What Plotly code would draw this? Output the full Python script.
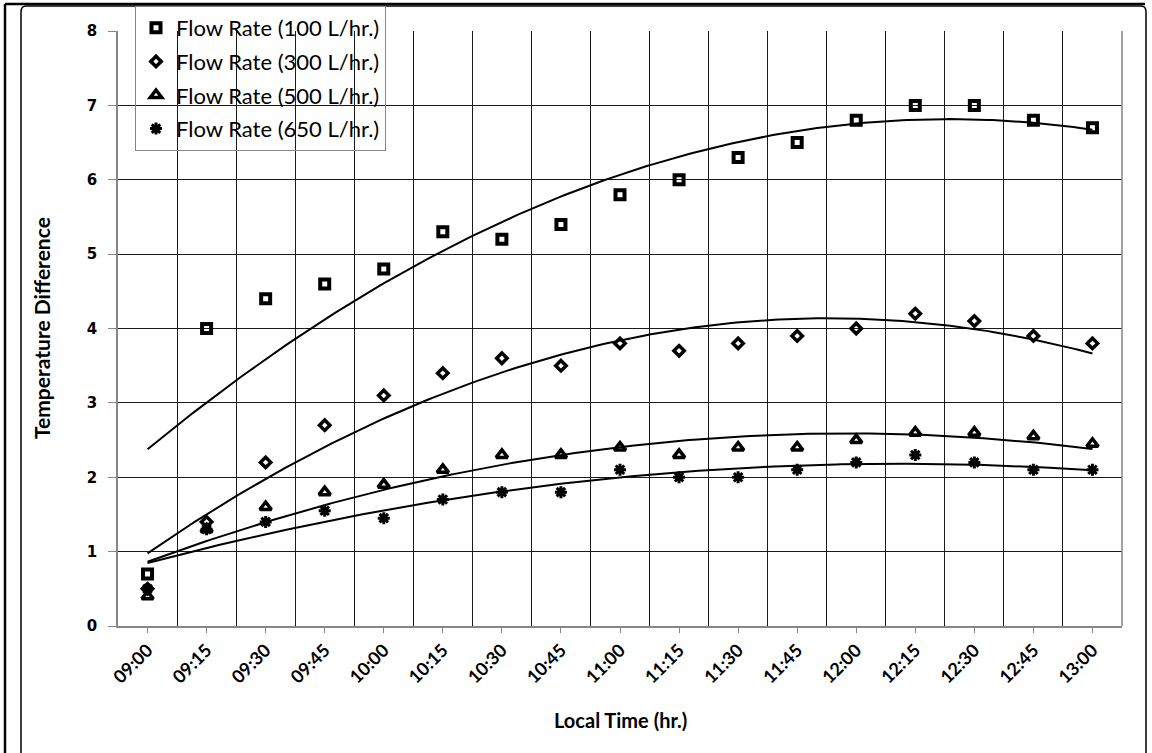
import numpy as np
import plotly.graph_objects as go

# ---------------- data ----------------
times = ["09:00", "09:15", "09:30", "09:45", "10:00", "10:15", "10:30", "10:45",
         "11:00", "11:15", "11:30", "11:45", "12:00", "12:15", "12:30", "12:45", "13:00"]
flow_100 = [0.7, 4.0, 4.4, 4.6, 4.8, 5.3, 5.2, 5.4, 5.8, 6.0, 6.3, 6.5, 6.8, 7.0, 7.0, 6.8, 6.7]
flow_300 = [0.5, 1.4, 2.2, 2.7, 3.1, 3.4, 3.6, 3.5, 3.8, 3.7, 3.8, 3.9, 4.0, 4.2, 4.1, 3.9, 3.8]
flow_500 = [0.4, 1.3, 1.6, 1.8, 1.9, 2.1, 2.3, 2.3, 2.4, 2.3, 2.4, 2.4, 2.5, 2.6, 2.6, 2.55, 2.45]
flow_650 = [0.5, 1.3, 1.4, 1.55, 1.45, 1.7, 1.8, 1.8, 2.1, 2.0, 2.0, 2.1, 2.2, 2.3, 2.2, 2.1, 2.1]
series_names = ["Flow Rate (100 L/hr.)", "Flow Rate (300 L/hr.)",
                "Flow Rate (500 L/hr.)", "Flow Rate (650 L/hr.)"]
y_ticks = [0, 1, 2, 3, 4, 5, 6, 7, 8]

series = [flow_100, flow_300, flow_500, flow_650]
symbols = ["square-open", "diamond-open", "triangle-up-open", "asterisk-open"]
sizes = [9, 8, 10, 10]
widths = [4, 3.5, 3.5, 3]

# plot area geometry (pixels) for paper conversions
W, H = 1152, 753
L, R, T, B = 118, 1122, 31, 626
def px(x):
    return (x - L) / (R - L)
def py(y):
    return (B - y) / (B - T)

x_idx = np.arange(len(times))
fig = go.Figure()

# polynomial (order 2) trendlines fitted to each series
x_dense = np.linspace(0, len(times) - 1, 200)
for vals in series:
    coef = np.polyfit(x_idx, vals, 2)
    fig.add_trace(go.Scatter(x=x_dense, y=np.polyval(coef, x_dense), mode="lines",
                             line=dict(color="black", width=2), showlegend=False,
                             hoverinfo="skip"))

for i, (vals, name) in enumerate(zip(series, series_names)):
    fig.add_trace(go.Scatter(
        x=x_idx, y=vals, mode="markers", name=name, legendgroup=f"g{i}",
        marker=dict(symbol=symbols[i], size=sizes[i], color="black",
                    line=dict(color="black", width=widths[i]))))

grid_col = "#1a1a1a"
axis_col = "#868686"

fig.update_xaxes(
    range=[-0.5, len(times) - 0.5], tickmode="array", tickvals=list(x_idx), ticktext=times,
    tickangle=-45, showgrid=False, showline=True, linecolor=axis_col, linewidth=1.5,
    ticks="outside", ticklen=5, tickcolor=axis_col, zeroline=False,
    tickfont=dict(family="Lato", size=18, color="black", weight="bold"),
    minor=dict(tickmode="array", tickvals=[v - 0.5 for v in range(1, len(times) + 1)],
               showgrid=True, gridcolor=grid_col, gridwidth=1, ticks=""),
)
fig.update_yaxes(
    range=[0, 8], tickmode="array", tickvals=y_ticks, showgrid=True, gridcolor=grid_col,
    gridwidth=1, showline=True, linecolor=axis_col, linewidth=1.5, ticks="outside",
    ticklen=8, tickcolor=axis_col, zeroline=False, ticklabelstandoff=8,
    tickfont=dict(family="DejaVu Sans", size=15, color="black", weight="bold"),
)

shapes = [
    # outer frame (left and top)
    dict(type="line", xref="paper", yref="paper", x0=px(5), x1=px(5), y0=py(4), y1=py(760),
         line=dict(color="black", width=2.5)),
    dict(type="line", xref="paper", yref="paper", x0=px(5), x1=px(1145), y0=py(4), y1=py(4),
         line=dict(color="black", width=2.5)),
    # inner rounded frame
    dict(type="path", xref="paper", yref="paper",
         path=(f"M {px(21)} {py(760)} L {px(21)} {py(12)} Q {px(21)} {py(6)} {px(26)} {py(6)} "
               f"L {px(1141)} {py(6)} Q {px(1146)} {py(6)} {px(1146)} {py(12)} L {px(1146)} {py(760)}"),
         line=dict(color="black", width=1.5)),
    # right edge of the plot area
    dict(type="line", xref="paper", yref="paper", x0=1, x1=1, y0=0, y1=1,
         line=dict(color=axis_col, width=1.5)),
]

annotations = [
    dict(text="Local Time (hr.)", xref="paper", yref="paper", x=0.5, y=py(720),
         showarrow=False, font=dict(family="Lato", size=20, color="black", weight="bold"),
         xanchor="center", yanchor="middle"),
    dict(text="Temperature Difference", xref="paper", yref="paper", x=px(41), y=py(328),
         showarrow=False, textangle=-90,
         font=dict(family="Lato", size=21, color="black", weight="bold"),
         xanchor="center", yanchor="middle"),
]

fig.update_layout(
    width=W, height=H, autosize=False,
    margin=dict(l=L, r=W - R, t=T, b=H - B, pad=0, autoexpand=False),
    plot_bgcolor="white", paper_bgcolor="white",
    shapes=shapes, annotations=annotations,
    legend=dict(x=px(135), y=py(6), xanchor="left", yanchor="top",
                bgcolor="rgba(0,0,0,0)", bordercolor=axis_col, borderwidth=1,
                font=dict(family="Lato", size=22, color="black"),
                tracegroupgap=2, itemwidth=30),
    showlegend=True,
)

fig.write_html("out.html")
